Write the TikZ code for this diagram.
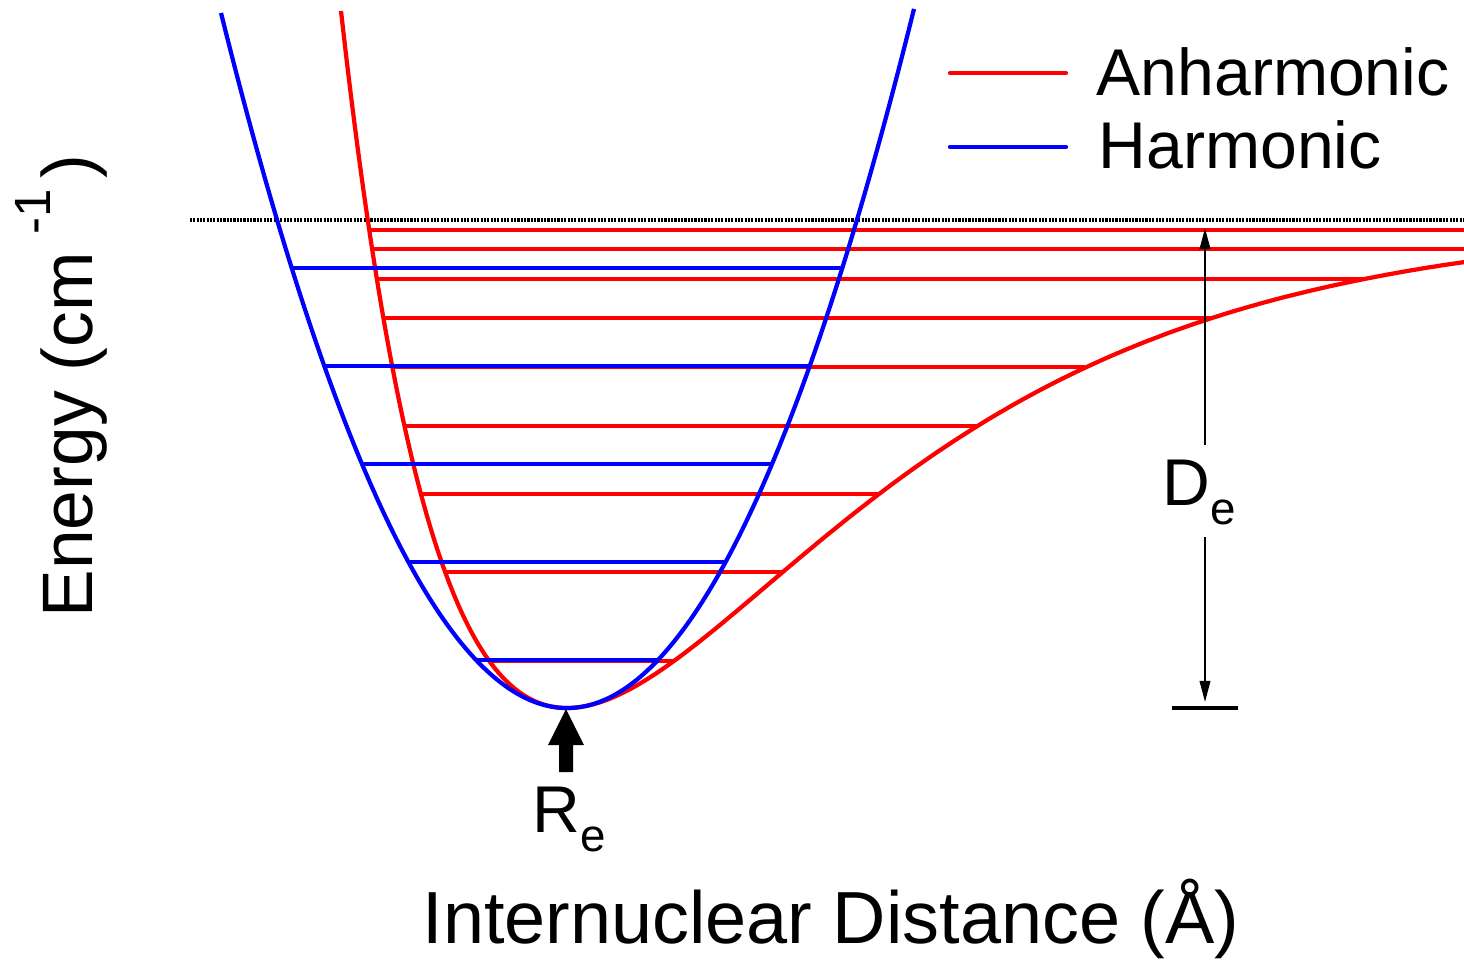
\documentclass[tikz,border=0pt]{standalone}
\usepackage{fontspec}
\setmainfont{Liberation Sans}
\usetikzlibrary{arrows.meta}
\begin{document}
\begin{tikzpicture}[x=0.01cm,y=-0.01cm,
  curve/.style={line width=1.2pt, line join=round},
  anh/.style={curve, draw=red},
  har/.style={curve, draw=blue},
  lbl/.style={inner sep=0pt, font=\fontsize{18.8pt}{22pt}\selectfont},
  axl/.style={inner sep=0pt, font=\fontsize{20.3pt}{24pt}\selectfont},
  dimline/.style={line width=0.55pt, -{Triangle[length=6pt,width=3pt]}},
]
\useasboundingbox (0,0) rectangle (1464,959);
% anharmonic levels
\foreach \yy in {661,572,494,426,367,318,279,249,230}{
  \pgfmathsetmacro\sq{sqrt((708-\yy)/488)}
  \pgfmathsetmacro\xl{567-ln(1+\sq)/0.003476}
  \pgfmathsetmacro\xr{min(1464,567-ln(1-\sq)/0.003476)}
  \draw[anh] (\xl,\yy) -- (\xr,\yy);
}
% dissociation limit
\coordinate (dl) at (190,220);
\coordinate (dr) at (1464,220);
\draw[line width=0.95pt, dash pattern=on 0.6pt off 0.35pt] (dl) -- (dr);
% Morse curve
\draw[anh] plot[domain=341:1464, samples=220, smooth]
  (\x, {708-488*(1-exp(-0.003476*(\x-567)))*(1-exp(-0.003476*(\x-567)))});
% harmonic curve
\draw[har] plot[domain=221:914, samples=160, smooth]
  (\x, {708-58.06*((\x-567)/100)*((\x-567)/100)});
% harmonic levels
\foreach \yy in {660,562,464,366,268}{
  \pgfmathsetmacro\dd{100*sqrt((708-\yy)/58.06)}
  \draw[har] ({567-\dd},\yy) -- ({567+\dd},\yy);
}
% D_e dimension
\node[lbl, anchor=base west] (de) at (1162,505) {D\raisebox{-5.5pt}{\fontsize{13pt}{15pt}\selectfont e}};
\coordinate (detop) at (1205,228);
\coordinate (deup) at (1205,445);
\coordinate (delow) at (1205,537);
\coordinate (debot) at (1205,702);
\draw[dimline] (deup) -- (detop);
\draw[dimline] (delow) -- (debot);
\coordinate (barl) at (1172,708);
\coordinate (barr) at (1238,708);
\draw[line width=0.9pt] (barl) -- (barr);
% R_e arrow
\fill (566,709) -- (584,745) -- (573,745) -- (573,772) -- (559,772) -- (559,745) -- (548,745) -- cycle;
\node[lbl, anchor=base west] (re) at (532,832) {R\raisebox{-5.5pt}{\fontsize{13pt}{15pt}\selectfont e}};
% legend
\coordinate (la1) at (950,73);
\coordinate (la2) at (1066,73);
\coordinate (lb1) at (950,147);
\coordinate (lb2) at (1066,147);
\draw[anh, line cap=round] (la1) -- (la2);
\draw[har, line cap=round] (lb1) -- (lb2);
\node[lbl, anchor=base west] (lega) at (1096,95) {Anharmonic};
\node[lbl, anchor=base west] (legb) at (1098,168) {Harmonic};
% axis labels
\node[axl, anchor=base, font=\fontsize{21pt}{25pt}\selectfont] (xlab) at (831,943) {Internuclear Distance (Å)};
\node[axl, rotate=90, anchor=base west] (ylab) at (92,618) {Energy (cm\kern 5pt\raisebox{11.8pt}{\fontsize{14.5pt}{16pt}\selectfont -1}\kern 3pt)};
\end{tikzpicture}
\end{document}
